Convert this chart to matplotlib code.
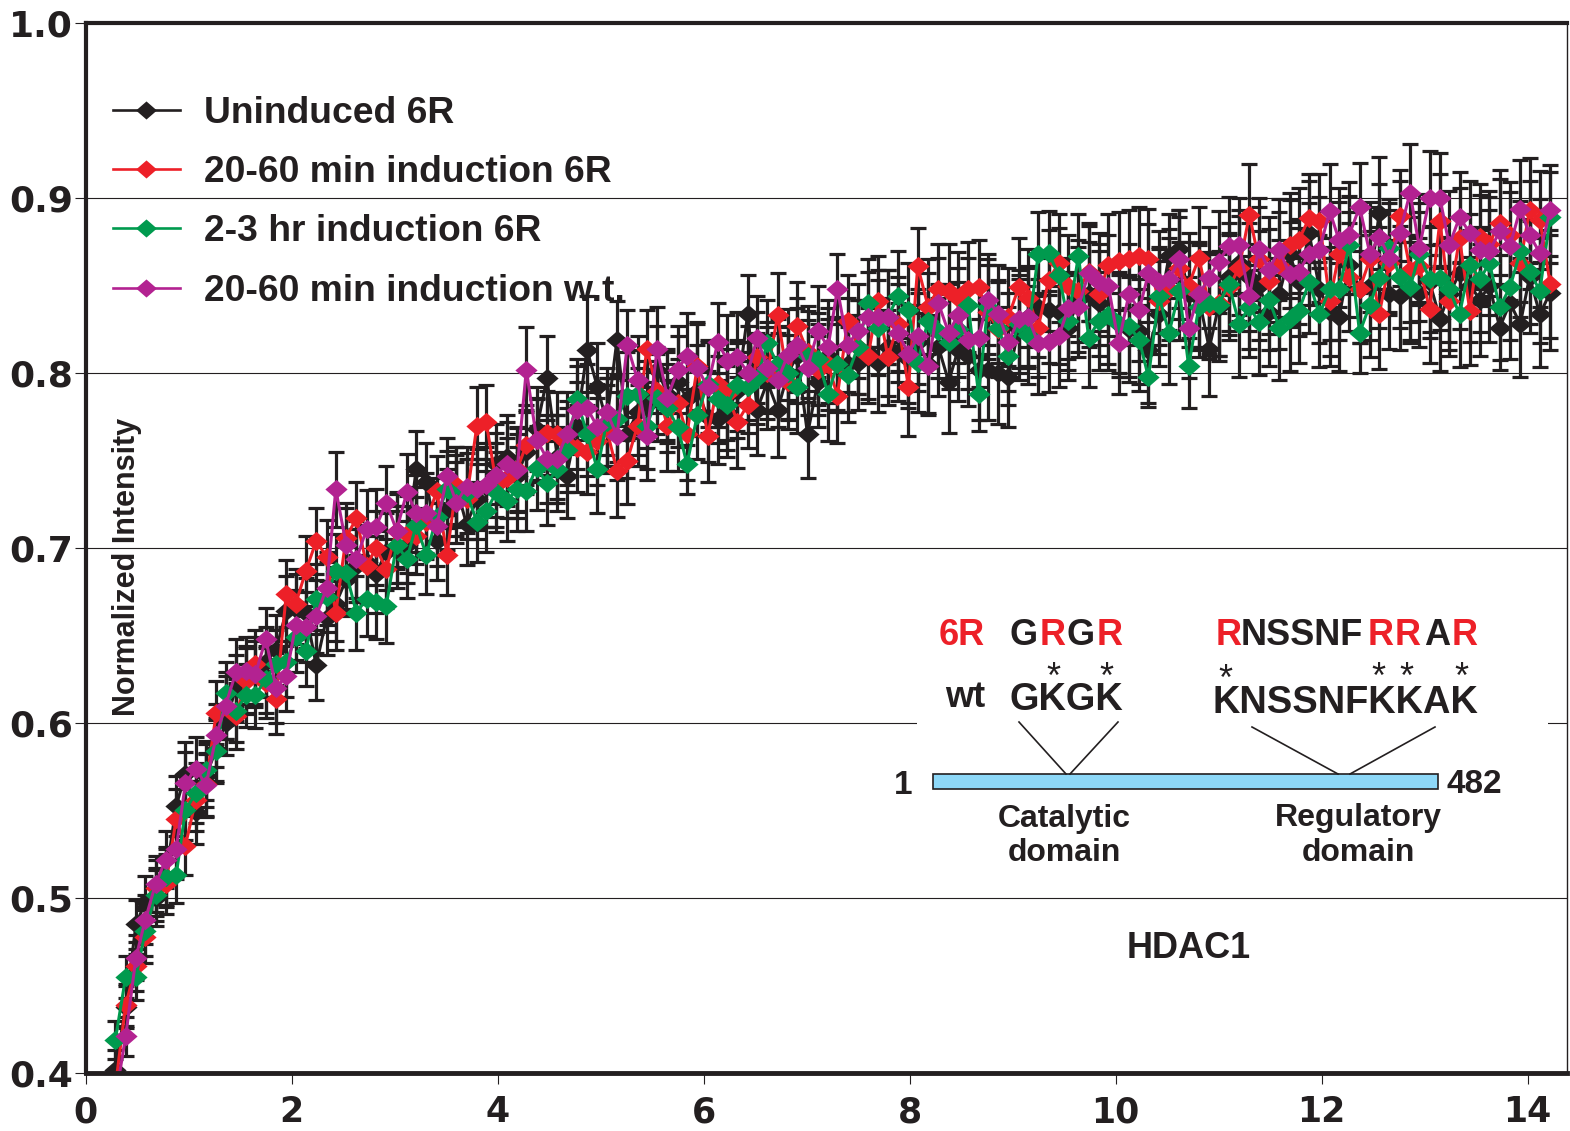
"""
Normalized intensity recovery curves for HDAC1, with the 6R / wt sequence inset.
"""

# Section: Imports
# ---
import matplotlib
matplotlib.use("Agg")
import matplotlib.pyplot as plt
from matplotlib.lines import Line2D
from matplotlib.patches import Rectangle

# Section: Data
# ---
time_s = [
    .29, .39, .49, .58, .68, .78, .88, .97, 1.07, 1.17,
    1.27, 1.36, 1.46, 1.56, 1.65, 1.75, 1.85, 1.95, 2.04, 2.14,
    2.24, 2.34, 2.43, 2.53, 2.63, 2.73, 2.82, 2.92, 3.02, 3.12,
    3.21, 3.31, 3.41, 3.51, 3.6, 3.7, 3.8, 3.89, 3.99, 4.09,
    4.19, 4.28, 4.38, 4.48, 4.58, 4.67, 4.77, 4.87, 4.97, 5.06,
    5.16, 5.26, 5.36, 5.45, 5.55, 5.65, 5.75, 5.84, 5.94, 6.04,
    6.14, 6.23, 6.33, 6.43, 6.52, 6.62, 6.72, 6.82, 6.91, 7.01,
    7.11, 7.21, 7.30, 7.40, 7.50, 7.60, 7.69, 7.79, 7.89, 7.99,
    8.08, 8.18, 8.28, 8.38, 8.47, 8.57, 8.67, 8.76, 8.86, 8.96,
    9.06, 9.15, 9.25, 9.35, 9.45, 9.54, 9.64, 9.74, 9.84, 9.93,
    10.03, 10.13, 10.23, 10.32, 10.42, 10.52, 10.62, 10.71, 10.81, 10.91,
    11.0, 11.1, 11.2, 11.3, 11.39, 11.49, 11.59, 11.69, 11.78, 11.88,
    11.98, 12.08, 12.17, 12.27, 12.37, 12.47, 12.56, 12.66, 12.76, 12.86,
    12.95, 13.05, 13.15, 13.24, 13.34, 13.44, 13.54, 13.63, 13.73, 13.83,
    13.93, 14.02, 14.12, 14.22,
]

uninduced_6r = [
    .402, .438, .485, .4975, .500, .512, .5525, .571, .549, .570,
    .585, .600, .620, .625, .630, .635, .642, .664, .665, .663,
    .633, .660, .668, .682, .690, .692, .685, .698, .699, .702,
    .745, .738, .704, .722, .735, .7135, .728, .735, .748, .752,
    .741, .755, .768, .797, .752, .741, .770, .813, .792, .772,
    .819, .765, .778, .782, .802, .788, .795, .785, .790, .775,
    .774, .778, .790, .834, .779, .795, .779, .800, .810, .765,
    .795, .810, .805, .805, .806, .812, .806, .815, .812, .808,
    .818, .805, .815, .795, .813, .810, .802, .802, .800, .798,
    .825, .832, .838, .836, .835, .826, .842, .845, .840, .832,
    .828, .825, .824, .813, .834, .867, .871, .845, .843, .814,
    .838, .855, .863, .855, .850, .835, .845, .868, .852, .880,
    .848, .835, .832, .862, .848, .850, .8915, .845, .844, .848,
    .846, .852, .831, .845, .857, .850, .842, .850, .826, .840,
    .828, .855, .8335, .846,
]
induction_20_60_6r = [
    .392, .439, .461, .478, .506, .508, .545, .53, .556, .565,
    .606, .609, .604, .624, .634, .623, .614, .674, .668, .687,
    .704, .695, .663, .706, .717, .69, .700, .688, .710, .708,
    .707, .715, .7325, .696, .736, .728, .770, .772, .736, .740,
    .745, .759, .762, .766, .765, .760, .757, .755, .761, .768,
    .744, .75, .77, .814, .790, .77, .783, .765, .804, .764,
    .794, .788, .772, .782, .809, .800, .833, .795, .827, .812,
    .802, .805, .787, .83, .815, .81, .841, .809, .828, .792,
    .861, .838, .848, .847, .843, .848, .849, .835, .825, .832,
    .849, .843, .826, .853, .863, .85, .847, .858, .845, .862,
    .864, .865, .867, .865, .841, .848, .860, .85, .866, .838,
    .84, .849, .86, .8905, .865, .8525, .862, .873, .876, .8885,
    .887, .841, .868, .855, .848, .865, .8335, .863, .89, .859,
    .861, .8365, .887, .841, .877, .8355, .878, .874, .886, .879,
    .863, .893, .8875, .851,
]
induction_2_3hr_6r = [
    .419, .455, .455, .481, .502, .512, .513, .55, .56, .573,
    .584, .617, .607, .616, .616, .625, .634, .635, .649, .641,
    .671, .672, .687, .686, .663, .671, .669, .667, .702, .6935,
    .713, .696, .718, .7335, .730, .7315, .715, .721, .732, .727,
    .7335, .7325, .746, .737, .745, .756, .785, .765, .745, .772,
    .774, .787, .788, .77, .786, .78, .769, .748, .776, .794,
    .785, .782, .793, .792, .797, .817, .805, .80, .792, .8095,
    .808, .788, .805, .799, .815, .84, .826, .832, .844, .836,
    .806, .83, .824, .818, .825, .839, .788, .838, .826, .8095,
    .828, .822, .868, .8685, .856, .83, .867, .82, .83, .833,
    .828, .827, .819, .7975, .844, .823, .847, .804, .838, .84,
    .839, .851, .828, .838, .829, .842, .826, .831, .8355, .852,
    .8335, .848, .848, .873, .823, .839, .8545, .8715, .855, .849,
    .868, .8535, .8545, .848, .8335, .862, .8535, .863, .8375, .849,
    .8695, .858, .847, .889,
]
induction_20_60_wt = [
    .385, .421, .466, .4875, .508, .522, .528, .5655, .574, .5645,
    .593, .61, .629, .63, .628, .648, .62, .627, .656, .655,
    .661, .677, .7335, .702, .6935, .711, .712, .726, .71, .732,
    .72, .72, .7125, .741, .726, .735, .7335, .736, .742, .748,
    .7445, .802, .762, .751, .751, .765, .779, .78, .769, .778,
    .764, .816, .796, .764, .814, .786, .802, .81, .803, .792,
    .818, .807, .809, .80, .82, .803, .796, .8105, .816, .803,
    .824, .815, .848, .816, .824, .832, .832, .832, .823, .811,
    .821, .804, .84, .823, .833, .819, .82, .842, .834, .8175,
    .831, .832, .817, .818, .821, .837, .838, .857, .852, .85,
    .817, .845, .836, .857, .852, .8535, .865, .826, .845, .8545,
    .8635, .8725, .873, .844, .871, .859, .8705, .8565, .858, .868,
    .8705, .8925, .876, .879, .895, .868, .878, .866, .88, .903,
    .8715, .90, .90, .873, .889, .88, .8705, .8695, .881, .8725,
    .894, .879, .8685, .893,
]

err_uninduced = [
    .011, .012, .014, .015, .016, .017, .017, .018, .018, .018,
    .018, .018, .019, .019, .019, .020, .020, .020, .020, .020,
    .020, .021, .021, .021, .021, .021, .022, .022, .022, .022,
    .022, .022, .022, .023, .023, .023, .023, .023, .023, .024,
    .024, .024, .024, .024, .024, .024, .025, .031, .025, .025,
    .022, .025, .025, .025, .025, .026, .026, .026, .026, .026,
    .026, .026, .027, .022, .026, .027, .027, .027, .027, .025,
    .026, .027, .027, .027, .027, .027, .028, .028, .028, .028,
    .028, .028, .028, .029, .029, .029, .029, .029, .029, .029,
    .029, .029, .029, .030, .030, .030, .030, .030, .030, .030,
    .030, .030, .030, .030, .030, .024, .022, .030, .030, .027,
    .031, .031, .030, .031, .031, .031, .031, .031, .031, .030,
    .031, .031, .031, .030, .031, .031, .032, .031, .031, .031,
    .031, .032, .030, .032, .032, .032, .032, .032, .024, .032,
    .030, .032, .030, .033,
]
err_20_60_6r = [
    .010, .012, .014, .015, .016, .017, .017, .017, .018, .018,
    .018, .018, .019, .019, .019, .020, .020, .019, .020, .020,
    .019, .021, .021, .020, .021, .022, .021, .022, .021, .022,
    .022, .021, .020, .023, .022, .023, .022, .021, .024, .023,
    .024, .023, .023, .024, .024, .024, .025, .024, .025, .025,
    .026, .025, .023, .022, .025, .026, .025, .026, .025, .026,
    .025, .026, .026, .025, .026, .026, .024, .027, .025, .026,
    .026, .026, .027, .026, .027, .027, .026, .027, .027, .028,
    .022, .027, .026, .027, .026, .027, .027, .027, .027, .028,
    .028, .028, .028, .029, .028, .029, .029, .028, .029, .029,
    .028, .028, .028, .029, .030, .029, .029, .030, .029, .030,
    .030, .030, .030, .029, .030, .030, .030, .030, .030, .025,
    .027, .031, .030, .031, .031, .030, .031, .030, .026, .030,
    .031, .031, .027, .031, .029, .031, .030, .030, .030, .030,
    .031, .030, .028, .031,
]
err_2_3hr = [
    .011, .012, .013, .014, .015, .016, .016, .017, .017, .017,
    .018, .018, .018, .018, .019, .019, .019, .020, .020, .020,
    .020, .020, .021, .021, .021, .021, .021, .021, .022, .022,
    .022, .022, .022, .022, .023, .023, .023, .023, .023, .023,
    .024, .023, .024, .024, .024, .024, .023, .024, .025, .025,
    .025, .025, .025, .025, .025, .025, .025, .017, .025, .025,
    .025, .026, .026, .026, .026, .025, .026, .026, .026, .026,
    .026, .027, .026, .027, .027, .025, .027, .027, .026, .027,
    .028, .027, .027, .027, .027, .027, .021, .027, .027, .028,
    .028, .028, .024, .024, .027, .028, .024, .028, .028, .028,
    .028, .029, .029, .017, .028, .029, .028, .024, .029, .029,
    .029, .029, .030, .029, .030, .029, .030, .030, .030, .029,
    .030, .029, .029, .028, .023, .030, .029, .028, .029, .030,
    .029, .030, .030, .030, .030, .029, .030, .030, .030, .030,
    .029, .030, .030, .026,
]
err_20_60_wt = [
    .010, .011, .013, .014, .016, .016, .017, .018, .018, .018,
    .018, .019, .019, .019, .019, .018, .020, .020, .020, .020,
    .021, .021, .0215, .021, .022, .022, .022, .021, .022, .022,
    .022, .023, .023, .022, .023, .023, .023, .024, .024, .024,
    .024, .0245, .024, .025, .025, .024, .025, .025, .025, .025,
    .025, .020, .025, .025, .024, .026, .025, .024, .025, .026,
    .022, .026, .026, .027, .024, .026, .027, .026, .027, .027,
    .026, .027, .020, .027, .027, .026, .027, .027, .028, .028,
    .027, .028, .026, .028, .027, .028, .028, .026, .028, .028,
    .028, .028, .029, .029, .029, .029, .029, .027, .028, .029,
    .029, .029, .029, .028, .029, .029, .028, .029, .030, .029,
    .029, .028, .027, .030, .029, .030, .029, .030, .030, .029,
    .030, .027, .030, .030, .025, .030, .030, .031, .030, .028,
    .031, .027, .026, .031, .026, .030, .031, .031, .030, .031,
    .028, .031, .031, .026,
]

series_labels = ["Uninduced 6R", "20-60 min induction 6R", "2-3 hr induction 6R", "20-60 min induction w.t."]
series_colors = ["#231f20", "#ed2028", "#009a4e", "#b32291"]
series_values = [uninduced_6r, induction_20_60_6r, induction_2_3hr_6r, induction_20_60_wt]
series_errors = [err_uninduced, err_20_60_6r, err_2_3hr, err_20_60_wt]

x_ticks = [0, 2, 4, 6, 8, 10, 12, 14]
y_ticks = [0.4, 0.5, 0.6, 0.7, 0.8, 0.9, 1.0]

# Section: Figure and axes
# ---
W, H = 1570, 1131
INK = "#231f20"
BOLD = ["Liberation Sans", "DejaVu Sans"]
DIAMOND = [(-1, 0), (0, 0.87), (1, 0), (0, -0.87)]

fig = plt.figure(figsize=(W / 100, H / 100), dpi=100)
ax = fig.add_axes([85.5 / W, 1 - 1073 / H, (1567 - 85.5) / W, (1073 - 23) / H])
ax.set_xlim(0, (1567 - 85.5) / 103)
ax.set_ylim(0.4, 1.0)

ax.yaxis.grid(True, color=INK, lw=0.8, zorder=0)
ax.set_axisbelow(True)
ax.set_xticks(x_ticks)
ax.set_yticks(y_ticks)
ax.set_yticklabels([f"{t:.1f}" for t in y_ticks])
ax.tick_params(axis="both", length=8, width=0.8, color=INK, labelcolor=INK)
ax.tick_params(axis="x", pad=8, labelsize=25)
ax.tick_params(axis="y", pad=1, labelsize=26)
for lab in ax.get_xticklabels() + ax.get_yticklabels():
    lab.set_fontfamily("DejaVu Sans")
    lab.set_fontweight("bold")
ax.spines["left"].set_linewidth(3)
ax.spines["top"].set_linewidth(3)
ax.spines["bottom"].set_linewidth(3.5)
ax.spines["right"].set_linewidth(1)
for sp in ax.spines.values():
    sp.set_color(INK)
    sp.set_zorder(6)

# Section: Curves
# ---
for vals, errs in zip(series_values, series_errors):
    ax.errorbar(time_s, vals, yerr=errs, fmt="none", ecolor=INK, elinewidth=2.3,
                capsize=6, capthick=2.3, zorder=2)
for i, (vals, col) in enumerate(zip(series_values, series_colors)):
    ax.plot(time_s, vals, color=col, lw=2.2, marker=DIAMOND, ms=16, mec="none", mfc=col, zorder=3 + i * 0.1)

# Section: Legend
# ---
handles = [Line2D([], [], color=c, lw=1.9, marker=DIAMOND, ms=15, mec="none") for c in series_colors]
leg = ax.legend(handles, series_labels, frameon=False, loc="upper left",
                bbox_to_anchor=((113 - 85.5) / (1567 - 85.5), 1 - (96 - 23) / 1050),
                borderpad=0, borderaxespad=0, handlelength=1.79, handletextpad=0.66, labelspacing=0.65,
                prop={"family": BOLD, "weight": "bold", "size": 26.8}, labelcolor=INK)
leg.set_zorder(1.5)


# Section: Inset (positions in reference pixels)
# ---
def fx(px):
    return px / W


def fy(py):
    return 1 - py / H


def label(px, py, s, color=INK, size=26, ha="center", va="baseline", family=BOLD, weight="bold", **kw):
    fig.text(fx(px), fy(py), s, color=color, fontsize=size, ha=ha, va=va, family=family, weight=weight, **kw)


fig.add_artist(Rectangle((fx(917), fy(733)), fx(1548 - 917), 16 / H, transform=fig.transFigure,
                         fc="white", ec="none", zorder=1))
fig.add_artist(Rectangle((fx(933), fy(789)), fx(1438 - 933), 15 / H, transform=fig.transFigure,
                         fc="#8dd8f8", ec=INK, lw=1.2, zorder=2))
for x0, y0, x1, y1 in [(1019, 722, 1066, 774), (1118, 722, 1070, 774), (1252, 727, 1338, 774), (1435, 727, 1350, 774)]:
    fig.add_artist(Line2D([fx(x0), fx(x1)], [fy(y0), fy(y1)], color=INK, lw=1.2, transform=fig.transFigure, zorder=2))

RED = "#ed2028"
label(962, 645, "6R", color=RED)
for px, s, c in [(1024, "G", INK), (1053, "R", RED), (1081, "G", INK), (1110, "R", RED),
                 (1229, "R", RED), (1302, "NSSNF", INK), (1381, "R", RED), (1408, "R", RED),
                 (1437, "A", INK), (1465, "R", RED)]:
    label(px, 645, s, color=c)
label(965, 707, "wt")
label(1066, 710, "GKGK", size=27.4)
label(1345.5, 713, "KNSSNFKKAK", size=27.4)
for px, py in [(1053, 688), (1106, 688), (1225, 690), (1378, 688), (1406, 688), (1461, 688)]:
    label(px, py, "*", size=26, weight="normal")

label(903, 794, "1", size=24)
label(1474, 793, "482", size=24)
label(1064, 827, "Catalytic", size=23)
label(1064, 861, "domain", size=23)
label(1358, 826, "Regulatory", size=23)
label(1358, 861, "domain", size=23)
label(1188.5, 958, "HDAC1", size=26)
label(127, 567, "Normalized Intensity", size=22, va="center", rotation=90)

fig.savefig("out.png", dpi=100)
